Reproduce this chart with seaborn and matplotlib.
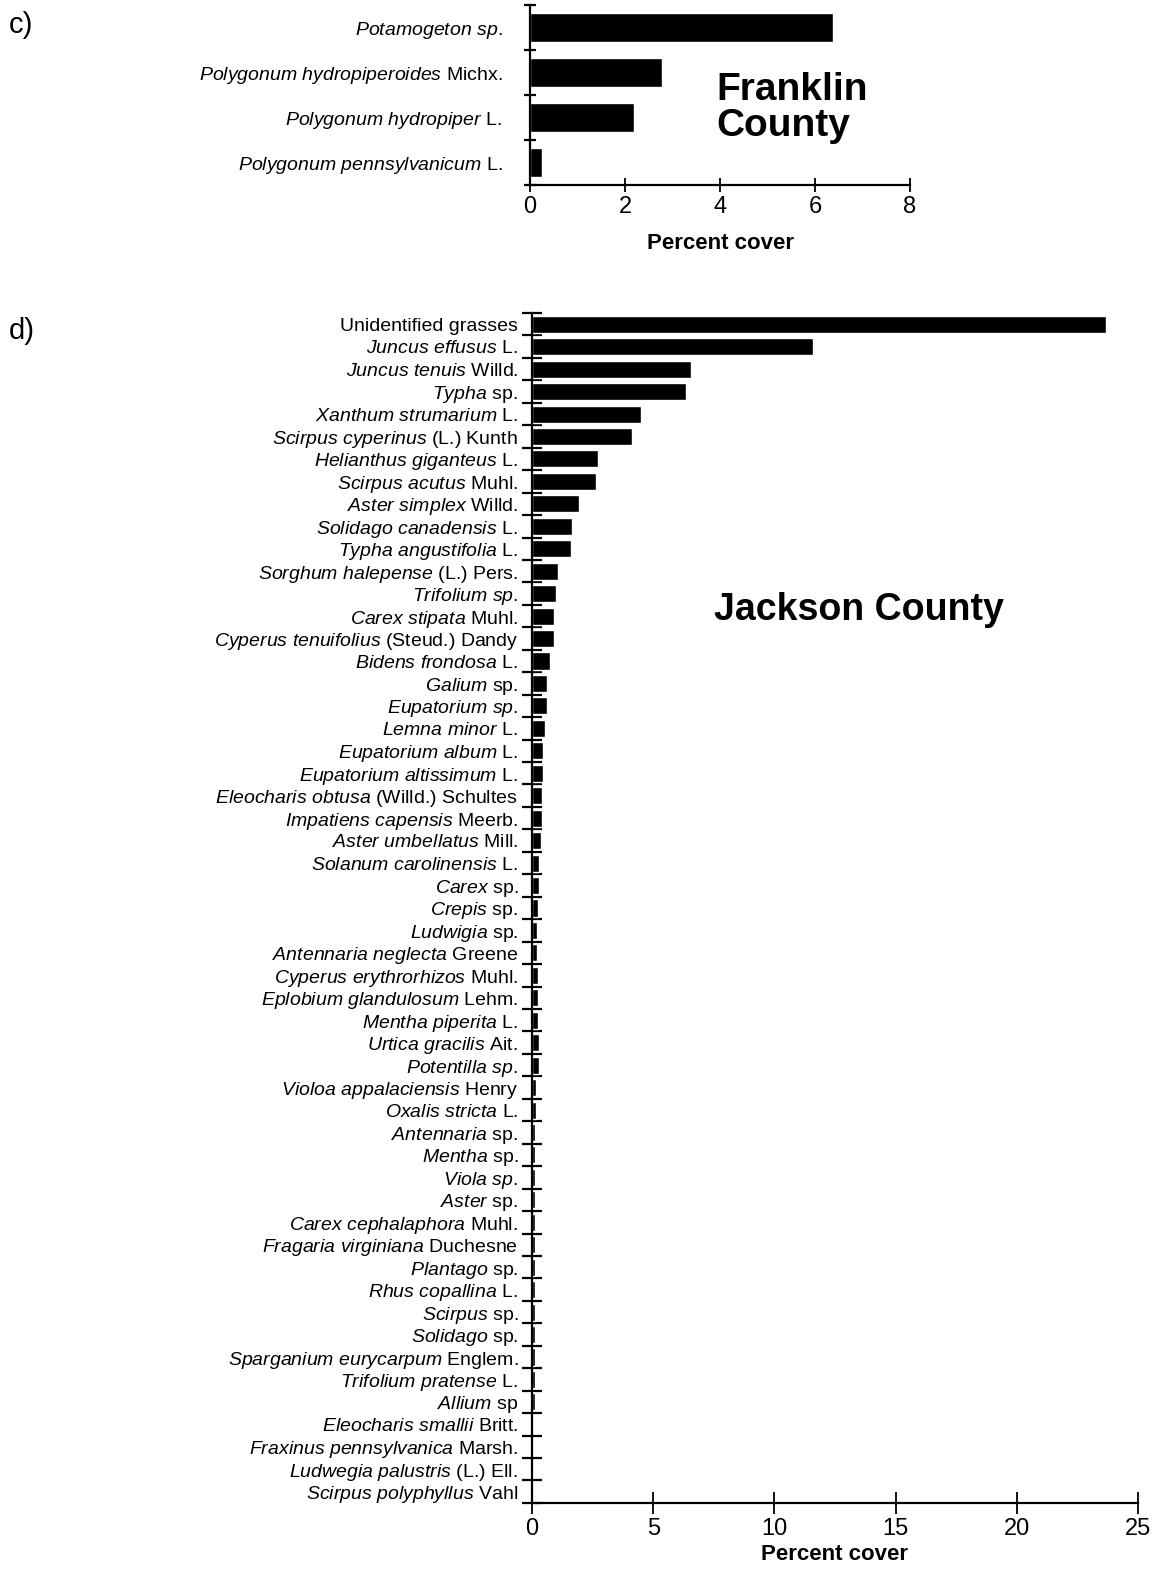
import numpy as np
import pandas as pd
import matplotlib
matplotlib.use("Agg")
import matplotlib.pyplot as plt
import seaborn as sns

# ---- Franklin County (panel c) ----
franklin_genus = ["Potamogeton sp.", "Polygonum hydropiperoides", "Polygonum hydropiper",
                  "Polygonum pennsylvanicum"]
franklin_author = ["", "Michx.", "L.", "L."]
franklin_cover = [6.37, 2.77, 2.19, 0.25]

# ---- Jackson County (panel d) ----
jackson_genus = [
    "", "Juncus effusus", "Juncus tenuis", "Typha", "Xanthum strumarium",
    "Scirpus cyperinus", "Helianthus giganteus", "Scirpus acutus", "Aster simplex",
    "Solidago canadensis", "Typha angustifolia", "Sorghum halepense", "Trifolium sp.",
    "Carex stipata", "Cyperus tenuifolius", "Bidens frondosa", "Galium",
    "Eupatorium sp.", "Lemna minor", "Eupatorium album", "Eupatorium altissimum",
    "Eleocharis obtusa", "Impatiens capensis", "Aster umbellatus",
    "Solanum carolinensis", "Carex", "Crepis", "Ludwigia", "Antennaria neglecta",
    "Cyperus erythrorhizos", "Eplobium glandulosum", "Mentha piperita",
    "Urtica gracilis", "Potentilla sp.", "Violoa appalaciensis", "Oxalis stricta",
    "Antennaria", "Mentha", "Viola sp.", "Aster", "Carex cephalaphora",
    "Fragaria virginiana", "Plantago", "Rhus copallina", "Scirpus", "Solidago",
    "Sparganium eurycarpum", "Trifolium pratense", "Allium", "Eleocharis smallii",
    "Fraxinus pennsylvanica", "Ludwegia palustris", "Scirpus polyphyllus",
]
jackson_author = [
    "Unidentified grasses", "L.", "Willd.", "sp.", "L.", "(L.) Kunth", "L.", "Muhl.",
    "Willd.", "L.", "L.", "(L.) Pers.", "", "Muhl.", "(Steud.) Dandy", "L.", "sp.",
    "", "L.", "L.", "L.", "(Willd.) Schultes", "Meerb.", "Mill.", "L.", "sp.", "sp.",
    "sp.", "Greene", "Muhl.", "Lehm.", "L.", "Ait.", "", "Henry", "L.", "sp.", "sp.",
    "", "sp.", "Muhl.", "Duchesne", "sp.", "L.", "sp.", "sp.", "Englem.", "L.", "sp",
    "Britt.", "Marsh.", "(L.) Ell.", "Vahl",
]
jackson_cover = [
    23.7, 11.58, 6.54, 6.37, 4.51, 4.13, 2.72, 2.64, 1.92, 1.67, 1.60, 1.06, 0.99,
    0.90, 0.91, 0.76, 0.63, 0.63, 0.54, 0.47, 0.47, 0.40, 0.40, 0.39, 0.29, 0.30,
    0.23, 0.22, 0.22, 0.26, 0.23, 0.23, 0.29, 0.29, 0.15, 0.15, 0.14, 0.12, 0.12,
    0.11, 0.11, 0.11, 0.12, 0.11, 0.12, 0.12, 0.12, 0.12, 0.13, 0.06, 0.06, 0.06,
    0.06,
]

sns.set_theme(style="white")
plt.rcParams["font.family"] = ["Liberation Sans", "DejaVu Sans"]
plt.rcParams["mathtext.fontset"] = "custom"
plt.rcParams["mathtext.it"] = "Liberation Sans:italic"
plt.rcParams["mathtext.rm"] = "Liberation Sans"
plt.rcParams["mathtext.default"] = "it"
for key in ("text.color", "axes.labelcolor", "xtick.color", "ytick.color",
            "axes.edgecolor"):
    plt.rcParams[key] = "black"


def species_label(genus, author):
    parts = []
    if genus:
        parts.append(r"$\mathit{" + genus.replace(" ", r"\ ") + "}$")
    if author:
        parts.append(author)
    return " ".join(parts)


def draw_panel(ax, genus, author, cover, xmax, xstep, ytick_len, xtick_len,
               bar_width, label_pad, xlabel_pad):
    labels = [species_label(g, a) for g, a in zip(genus, author)]
    df = pd.DataFrame({"species": labels, "cover": cover})
    sns.barplot(data=df, x="cover", y="species", orient="h", color="black",
                saturation=1, width=bar_width, ax=ax)
    n = len(labels)
    ax.set_xlim(0, xmax)
    ax.set_ylim(n - 0.5, -0.5)
    ax.set_xticks(np.arange(0, xmax + 0.1, xstep))
    ax.set_yticks(np.arange(-0.5, n, 1.0), minor=True)
    ax.tick_params(axis="y", which="major", left=True, length=0, pad=label_pad,
                   labelsize=14)
    ax.tick_params(axis="y", which="minor", left=True, length=ytick_len, width=1.6,
                   direction="inout")
    ax.tick_params(axis="x", which="major", bottom=True, length=xtick_len, width=1.3,
                   direction="inout", labelsize=17, pad=3)
    ax.set_ylabel("")
    ax.set_xlabel("Percent cover", fontsize=16, fontweight="bold",
                  labelpad=xlabel_pad)
    for s in ("top", "right"):
        ax.spines[s].set_visible(False)
    for s in ("left", "bottom"):
        ax.spines[s].set_linewidth(1.6)


fig = plt.figure(figsize=(11.56, 15.69), dpi=100)

ax_c = fig.add_axes([0.4585, 0.8821, 0.3287, 0.1147])
draw_panel(ax_c, franklin_genus, franklin_author, franklin_cover, 8, 2, 9, 10,
           0.66, 20, 11)
ax_c.text(0.49, 0.63, "Franklin\nCounty", transform=ax_c.transAxes,
          fontsize=28, fontweight="bold", ha="left", va="top", linespacing=1.0)

ax_d = fig.add_axes([0.4602, 0.0421, 0.5242, 0.7584])
draw_panel(ax_d, jackson_genus, jackson_author, jackson_cover, 25, 5, 15, 16,
           0.76, 10, 3)
ax_d.text(0.30, 0.75, "Jackson County", transform=ax_d.transAxes,
          fontsize=27, fontweight="bold", ha="left", va="center")

fig.text(0.008, 0.984, "c)", fontsize=21, ha="left", va="center")
fig.text(0.008, 0.789, "d)", fontsize=21, ha="left", va="center")

fig.savefig("out.png", dpi=100, facecolor="white")
